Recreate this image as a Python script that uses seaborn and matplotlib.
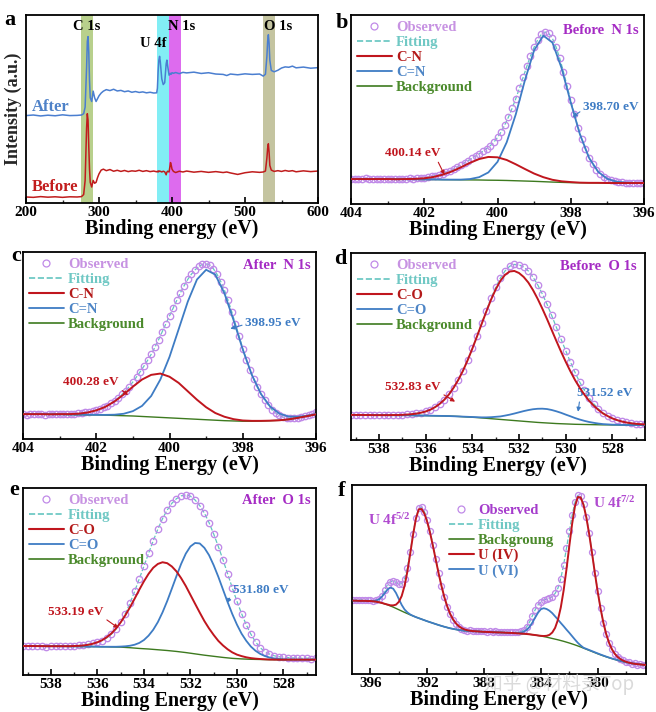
import numpy as np
import pandas as pd
import matplotlib
matplotlib.use("Agg")
import matplotlib.pyplot as plt
import seaborn as sns
from matplotlib.lines import Line2D
from matplotlib.ticker import MultipleLocator

# ===================== DATA =====================
# (a) survey spectra
survey_x = [200, 210, 220, 230, 240, 250, 260, 270, 276, 279, 281, 283, 284, 285, 286, 287, 288,
            290, 292, 294, 296, 298, 300, 303, 306, 310, 315, 320, 325, 330, 335, 340, 345, 350,
            355, 360, 365, 370, 375, 379, 380, 381, 382, 383, 384, 386, 388, 390, 392, 393, 394,
            396, 398, 399, 400, 402, 405, 410, 415, 420, 430, 440, 450, 460, 470, 475, 480, 490,
            500, 510, 520, 525, 528, 530, 531, 532, 533, 534, 536, 540, 545, 550, 555, 560, 565,
            570, 580, 590, 600]
survey_after = [46.5, 46.8, 46.3, 46.7, 46.4, 46.9, 46.5, 46.6, 46.8, 47.5, 51, 72, 86, 88.5, 80, 65, 56,
                54, 59.5, 56, 54, 55.5, 57, 58.5, 59.5, 60.3, 59.8, 60.5, 59.6, 59.9, 59.2, 59.6, 58.9, 59.3,
                58.8, 59.1, 58.6, 58.9, 58.5, 58.6, 61, 70, 76, 78, 75, 66, 63, 64, 74, 76, 73,
                68, 69, 68.5, 69.3, 69, 69.4, 68.8, 69.5, 69.2, 69.6, 68.9, 69.3, 68.6, 68.4, 67.8, 68.6, 68.2,
                68.7, 68.4, 68.6, 67.5, 68.5, 78, 86, 89.5, 85, 76, 70.5, 69.8, 70.6, 71.8, 72.4, 72.2, 72.8,
                71.9, 72.3, 71.7, 72.0]
survey_before = [3.2, 3.0, 3.4, 3.1, 3.3, 3.0, 3.3, 3.2, 3.4, 4.5, 12, 40, 47.5, 44, 30, 18, 11,
                 8.5, 12, 10.5, 11, 13.5, 15.5, 17.5, 18, 17.2, 17.8, 16.9, 17.4, 16.8, 17.3, 16.7, 17.1, 16.9,
                 17.4, 16.8, 17.2, 16.7, 17.0, 16.6, 16.9, 16.5, 17.1, 16.8, 16.9, 16.5, 16.9, 16.6, 15.0, 16.4, 16.9,
                 16.5, 21.5, 20, 18, 16.8, 16.2, 16.9, 16.5, 17.0, 16.4, 16.8, 16.3, 16.7, 16.2, 16.5, 16.0, 15.2,
                 16.1, 16.6, 16.3, 16.5, 17, 24, 29, 31.5, 27, 20, 17.5, 16.8, 17.2, 16.8, 17.3, 16.9, 17.2,
                 16.6, 17.1, 16.7, 17.0]
survey_bands = [(276, 292), (380, 396), (396, 413), (525, 541)]

# N 1s sampling grids (eV)
n1s_x = np.linspace(404.0, 396.0, 33)
n1s_obs_x = np.linspace(404.0, 396.0, 81)

# (b) Before N 1s
b_bg = [13.2, 13.2, 13.2, 13.2, 13.15, 13.1, 13.1, 13.05, 13.0, 12.95, 12.9, 12.85, 12.8, 12.75, 12.7, 12.6,
        12.55, 12.45, 12.3, 12.15, 12.0, 11.8, 11.6, 11.45, 11.3, 11.25, 11.2, 11.15, 11.1, 11.1, 11.1, 11.1, 11.1]
b_cn = [13.2, 13.2, 13.2, 13.2, 13.2, 13.1, 13.2, 13.3, 13.6, 14.3, 15.5, 17.2, 19.4, 21.8, 23.8, 24.9,
        24.7, 23.3, 21.0, 18.5, 16.1, 14.2, 12.8, 12.0, 11.6, 11.3, 11.2, 11.2, 11.1, 11.1, 11.1, 11.1, 11.1]
b_ceqn = [13.2, 13.2, 13.2, 13.2, 13.2, 13.1, 13.1, 13.1, 13.0, 13.0, 12.9, 12.9, 12.9, 13.2, 14.2, 16.7,
          22.3, 32.6, 47.5, 65.6, 81.3, 89.1, 85.4, 71.9, 53.7, 36.9, 24.4, 17.0, 13.3, 11.8, 11.3, 11.2, 11.1]
b_obs = [13.3, 13.0, 13.4, 13.2, 13.5, 13.1, 13.3, 13.0, 13.4, 13.2,
         13.3, 13.1, 13.4, 13.2, 13.3, 13.3, 13.5, 13.4, 13.6, 13.7,
         13.9, 14.2, 14.6, 15.0, 15.5, 16.1, 16.8, 17.6, 18.5, 19.5,
         20.6, 21.8, 23.0, 24.2, 25.4, 26.6, 27.9, 29.3, 30.8, 32.7,
         35.2, 38.2, 41.9, 46.0, 50.7, 55.8, 61.3, 67.0, 72.8, 78.3,
         83.0, 87.0, 89.8, 91.0, 90.3, 87.6, 83.0, 77.0, 70.0, 62.4,
         54.8, 47.4, 40.4, 34.4, 29.0, 24.6, 21.0, 18.2, 16.0, 14.5,
         13.4, 12.6, 12.0, 11.7, 11.5, 11.3, 11.2, 11.3, 11.1, 11.2,
         11.0]

# (c) After N 1s
c_bg = [13.3, 13.3, 13.25, 13.2, 13.2, 13.1, 13.0, 12.95, 12.9, 12.75, 12.6, 12.45, 12.3, 12.05, 11.8, 11.55,
        11.3, 11.05, 10.8, 10.55, 10.3, 10.05, 9.8, 9.65, 9.5, 9.5, 9.6, 9.8, 10.0, 10.5, 11.3, 12.2, 13.2]
c_cn = [13.3, 13.3, 13.3, 13.2, 13.3, 13.3, 13.5, 14.1, 15.3, 17.2, 20.1, 23.8, 28.0, 31.8, 34.3, 35.0,
        33.3, 30.0, 25.5, 21.0, 17.0, 13.9, 11.9, 10.6, 9.9, 9.7, 9.7, 9.8, 10.0, 10.5, 11.3, 12.2, 13.2]
c_ceqn = [13.3, 13.3, 13.3, 13.2, 13.2, 13.1, 13.0, 13.0, 12.9, 12.9, 13.0, 13.5, 14.9, 17.7, 23.0, 31.8,
          43.9, 58.7, 73.5, 85.3, 90.5, 87.9, 77.9, 63.5, 47.9, 34.2, 24.0, 17.3, 13.6, 12.0, 11.9, 12.4, 13.3]
c_obs = [13.5, 13.1, 13.4, 13.2, 13.6, 13.3, 13.1, 13.5, 13.2, 13.4,
         13.3, 13.5, 13.2, 13.6, 13.5, 13.7, 13.8, 14.2, 14.5, 15.0,
         15.5, 16.3, 17.0, 17.9, 19.0, 20.4, 22.0, 23.8, 25.8, 28.0,
         30.5, 33.2, 36.0, 38.9, 42.0, 45.3, 49.0, 53.0, 57.3, 61.6,
         65.8, 70.0, 74.2, 78.3, 82.0, 85.4, 88.2, 90.5, 92.3, 93.4,
         93.6, 92.9, 91.0, 88.0, 84.2, 79.6, 74.2, 68.0, 61.5, 55.0,
         48.3, 42.2, 36.8, 32.0, 27.6, 23.9, 20.8, 18.2, 15.5, 13.9,
         12.6, 11.7, 11.2, 11.0, 11.0, 11.3, 11.7, 12.2, 12.8, 13.5,
         14.3]

# O 1s sampling grid (eV)
o1s_x = np.linspace(539.2, 526.6, 64)

# (d) Before O 1s
d_bg = [13.4, 13.4, 13.4, 13.35, 13.35, 13.3, 13.3, 13.3, 13.25, 13.25,
        13.2, 13.2, 13.2, 13.15, 13.1, 13.1, 13.05, 13.0, 12.95, 12.9,
        12.85, 12.8, 12.7, 12.6, 12.45, 12.3, 12.15, 12.0, 11.8, 11.6,
        11.4, 11.2, 11.0, 10.8, 10.6, 10.4, 10.2, 10.0, 9.8, 9.6,
        9.4, 9.25, 9.1, 8.95, 8.8, 8.7, 8.6, 8.5, 8.4, 8.35,
        8.3, 8.25, 8.2, 8.15, 8.1, 8.1, 8.05, 8.05, 8.0, 8.0,
        8.0, 8.0, 8.0, 8.0]
d_co = [13.4, 13.4, 13.4, 13.35, 13.35, 13.3, 13.3, 13.3, 13.3, 13.35,
        13.35, 13.45, 13.6, 13.8, 14.1, 14.6, 15.25, 16.2, 17.55, 19.3,
        21.55, 24.4, 28.0, 32.2, 37.05, 42.7, 48.85, 55.4, 62.1, 68.7,
        75.0, 80.5, 85.1, 88.3, 90.1, 90.4, 89.3, 87.2, 84.2, 80.2,
        75.5, 70.25, 64.7, 58.85, 53.0, 47.3, 41.9, 36.8, 32.1, 27.95,
        24.3, 21.05, 18.4, 16.15, 14.2, 12.8, 11.55, 10.65, 9.9, 9.36,
        8.96, 8.67, 8.46, 8.31]
d_ceqo = [13.4, 13.4, 13.4, 13.35, 13.35, 13.3, 13.3, 13.3, 13.25, 13.25,
          13.2, 13.2, 13.2, 13.15, 13.1, 13.1, 13.05, 13.0, 12.95, 12.9,
          12.85, 12.8, 12.7, 12.6, 12.5, 12.4, 12.3, 12.2, 12.1, 12.1,
          12.2, 12.4, 12.6, 13.05, 13.55, 14.15, 14.8, 15.45, 16.0, 16.45,
          16.7, 16.75, 16.55, 16.05, 15.35, 14.55, 13.6, 12.7, 11.75, 10.95,
          10.25, 9.65, 9.2, 8.8, 8.5, 8.35, 8.2, 8.15, 8.05, 8.0,
          8.0, 8.0, 8.0, 8.0]
d_obs = [13.5, 13.2, 13.6, 13.3, 13.5, 13.2, 13.4, 13.2, 13.5, 13.3,
         13.4, 13.5, 13.7, 13.8, 14.2, 14.6, 15.3, 16.2, 17.6, 19.3,
         21.6, 24.4, 28.0, 32.3, 37.1, 42.8, 49.0, 55.6, 62.4, 69.2,
         75.8, 81.6, 86.6, 90.4, 92.9, 93.9, 93.7, 92.5, 90.4, 87.1,
         83.0, 78.1, 72.6, 66.6, 60.3, 54.0, 47.8, 41.8, 36.2, 31.0,
         26.6, 22.6, 19.4, 16.7, 14.5, 12.9, 11.6, 10.6, 9.9, 9.4,
         9.0, 8.8, 8.5, 8.4]

# (e) After O 1s
e_bg = [15.5, 15.5, 15.5, 15.45, 15.45, 15.4, 15.4, 15.4, 15.35, 15.35,
        15.3, 15.3, 15.25, 15.25, 15.2, 15.2, 15.15, 15.1, 15.1, 15.0,
        14.95, 14.9, 14.75, 14.6, 14.4, 14.2, 14.05, 13.9, 13.7, 13.5,
        13.3, 13.1, 12.85, 12.6, 12.3, 12.0, 11.65, 11.3, 10.95, 10.6,
        10.3, 10.0, 9.7, 9.4, 9.15, 8.9, 8.75, 8.6, 8.5, 8.4,
        8.35, 8.3, 8.25, 8.2, 8.2, 8.2, 8.2, 8.2, 8.2, 8.2,
        8.2, 8.2, 8.2, 8.2]
e_co = [15.5, 15.5, 15.5, 15.45, 15.45, 15.4, 15.4, 15.4, 15.4, 15.4,
        15.4, 15.5, 15.6, 15.8, 16.15, 16.7, 17.5, 18.6, 20.2, 22.2,
        24.85, 28.15, 31.95, 36.2, 40.8, 45.6, 50.1, 54.1, 57.35, 59.4,
        60.3, 59.8, 58.05, 55.4, 51.8, 47.6, 42.85, 38.1, 33.4, 28.85,
        24.9, 21.4, 18.25, 15.8, 13.75, 12.1, 10.9, 10.1, 9.47, 9.02,
        8.74, 8.54, 8.4, 8.28, 8.25, 8.2, 8.2, 8.2, 8.2, 8.2,
        8.2, 8.2, 8.2, 8.2]
e_ceqo = [15.5, 15.5, 15.5, 15.45, 15.45, 15.4, 15.4, 15.4, 15.35, 15.35,
          15.3, 15.3, 15.25, 15.25, 15.2, 15.2, 15.15, 15.1, 15.1, 15.1,
          15.1, 15.2, 15.35, 15.65, 16.2, 17.15, 18.7, 21.05, 24.2, 28.3,
          33.5, 39.5, 46.15, 52.9, 59.4, 64.9, 68.75, 70.6, 70.35, 68.0,
          64.1, 58.7, 52.5, 45.7, 38.95, 32.6, 26.95, 22.1, 18.3, 15.2,
          12.95, 11.3, 10.15, 9.36, 8.88, 8.59, 8.42, 8.32, 8.26, 8.23,
          8.2, 8.2, 8.2, 8.2]
e_obs = [15.6, 15.3, 15.7, 15.4, 15.6, 15.2, 15.5, 15.3, 15.6, 15.4,
         15.5, 15.6, 15.8, 16.0, 16.4, 16.9, 17.4, 18.4, 19.8, 21.8,
         24.6, 28.2, 32.8, 38.4, 44.7, 51.4, 58.2, 65.1, 71.8, 78.0,
         83.6, 88.2, 91.8, 94.3, 95.8, 96.3, 95.6, 93.6, 90.6, 86.6,
         81.5, 75.4, 68.7, 61.6, 54.1, 46.6, 39.4, 32.8, 26.9, 21.8,
         17.7, 14.6, 12.5, 11.2, 10.3, 9.8, 9.5, 9.3, 9.1, 9.2,
         8.9, 9.0, 8.8, 8.9]

# (f) U 4f
u4f_x = np.linspace(397.2, 376.6, 104)
f_bg = [38.8, 38.8, 38.7, 38.7, 38.7, 38.6, 38.6, 38.45, 38.3, 37.95,
        37.6, 37.1, 36.6, 36.0, 35.4, 34.7, 34.0, 33.3, 32.6, 31.95,
        31.3, 30.7, 30.1, 29.55, 29.0, 28.45, 27.9, 27.4, 26.9, 26.4,
        25.9, 25.45, 25.0, 24.6, 24.2, 23.9, 23.6, 23.35, 23.1, 22.95,
        22.8, 22.7, 22.6, 22.55, 22.5, 22.4, 22.3, 22.25, 22.2, 22.1,
        22.05, 22.0, 21.95, 21.9, 21.8, 21.75, 21.7, 21.6, 21.5, 21.4,
        21.3, 21.15, 21.0, 20.8, 20.6, 20.35, 20.1, 19.8, 19.5, 19.15,
        18.8, 18.45, 18.1, 17.7, 17.3, 16.85, 16.4, 15.9, 15.4, 14.85,
        14.3, 13.7, 13.1, 12.5, 11.9, 11.3, 10.7, 10.15, 9.6, 9.1,
        8.6, 8.15, 7.7, 7.3, 6.9, 6.55, 6.2, 5.9, 5.6, 5.4,
        5.2, 5.05, 4.9, 4.8]
f_u4 = [38.8, 38.8, 38.7, 38.7, 38.7, 38.6, 38.6, 38.45, 38.3, 37.95,
        37.6, 37.15, 36.75, 36.35, 36.3, 36.7, 38.2, 41.3, 46.6, 54.25,
        63.7, 73.7, 82.2, 87.15, 87.3, 84.85, 80.4, 74.6, 67.7, 60.4,
        53.2, 46.55, 40.7, 35.9, 32.0, 29.1, 26.95, 25.4, 24.35, 23.65,
        23.2, 22.9, 22.7, 22.6, 22.5, 22.4, 22.3, 22.25, 22.2, 22.1,
        22.05, 22.0, 21.95, 21.9, 21.8, 21.75, 21.7, 21.6, 21.5, 21.4,
        21.3, 21.15, 21.0, 20.8, 20.6, 20.4, 20.2, 20.1, 20.2, 20.7,
        21.95, 24.4, 28.7, 35.2, 44.2, 55.35, 67.7, 79.5, 88.8, 93.65,
        93.4, 89.5, 82.8, 74.0, 63.9, 53.4, 43.5, 34.65, 27.1, 21.05,
        16.5, 13.1, 10.7, 9.05, 7.9, 7.05, 6.45, 6.0, 5.65, 5.4,
        5.2, 5.05, 4.9, 4.8]
f_u6 = [38.8, 38.8, 38.7, 38.7, 38.7, 38.6, 38.65, 38.65, 38.9, 39.5,
        40.85, 42.75, 44.75, 45.75, 45.15, 42.85, 39.65, 36.55, 34.15, 32.6,
        31.5, 30.75, 30.1, 29.55, 29.0, 28.45, 27.9, 27.4, 26.9, 26.4,
        25.9, 25.45, 25.0, 24.6, 24.2, 23.9, 23.6, 23.35, 23.1, 22.95,
        22.8, 22.7, 22.6, 22.55, 22.5, 22.4, 22.3, 22.25, 22.2, 22.1,
        22.05, 22.0, 21.95, 21.9, 21.8, 21.75, 21.72, 21.67, 21.7, 21.89,
        22.4, 23.35, 24.95, 27.2, 29.9, 32.45, 34.3, 34.8, 34.4, 33.5,
        32.2, 30.5, 28.8, 27.0, 25.3, 23.5, 21.8, 20.0, 18.2, 16.5,
        15.1, 13.9, 13.3, 12.7, 12.1, 11.5, 10.9, 10.3, 9.75, 9.2,
        8.7, 8.2, 7.75, 7.35, 6.95, 6.6, 6.25, 5.95, 5.65, 5.45,
        5.25, 5.1, 4.95, 4.85]
f_obs = [39.0, 39.3, 39.0, 39.4, 39.1, 39.2, 38.9, 38.8, 38.9, 39.6,
         41.5, 44.4, 47.3, 48.9, 49.2, 48.5, 47.5, 47.8, 50.5, 56.2,
         64.6, 74.0, 82.6, 87.8, 88.3, 85.9, 81.3, 75.4, 68.4, 60.9,
         53.5, 46.7, 40.6, 35.6, 31.5, 28.6, 26.4, 25.0, 24.0, 23.5,
         23.0, 23.2, 22.8, 22.6, 22.9, 22.5, 22.7, 22.4, 22.6, 22.2,
         22.5, 22.1, 22.4, 22.0, 22.3, 22.1, 22.2, 22.0, 22.3, 22.6,
         23.4, 25.0, 27.5, 30.8, 34.0, 36.6, 38.2, 39.2, 39.6, 40.0,
         41.0, 42.6, 45.4, 50.5, 57.8, 66.5, 75.4, 84.0, 90.9, 94.5,
         94.2, 89.9, 83.3, 74.4, 64.3, 53.7, 43.7, 34.8, 27.2, 21.1,
         16.6, 13.2, 10.8, 9.2, 8.0, 7.3, 6.5, 6.2, 5.4, 5.6,
         5.0, 5.3, 4.8, 5.0]

# ===================== STYLE =====================
sns.set_theme(style="ticks")
plt.rcParams["font.family"] = ["Liberation Serif", "DejaVu Serif"]
plt.rcParams["font.weight"] = "bold"
plt.rcParams["mathtext.fontset"] = "custom"
plt.rcParams["mathtext.rm"] = "Liberation Serif:bold"
plt.rcParams["mathtext.bf"] = "Liberation Serif:bold"
plt.rcParams["mathtext.default"] = "bf"

RED = "#c0161e"
BLUE = "#3e7cc4"
GREEN = "#3d7a1f"
FIT = "#63c5c0"
OBS = "#c08ae8"
TITLE = "#a52bc4"
LEG_TXT = {"obs": "#c792e2", "fit": "#70c8c4", "red": "#b41a1a", "blue": "#4d85c6", "green": "#4b8a2c"}

fig = plt.figure(figsize=(6.56, 7.12), dpi=100)
W, H = 656.0, 712.0


def add_axes(l, t, r, b):
    return fig.add_axes([l / W, 1 - b / H, (r - l) / W, (b - t) / H])


def style_axis(ax, xlim, major, minor, xlabel):
    ax.set_xlim(*xlim)
    ax.set_ylim(0, 100)
    ax.xaxis.set_major_locator(MultipleLocator(major))
    ax.xaxis.set_minor_locator(MultipleLocator(minor))
    ax.set_yticks([])
    ax.set_ylabel("")
    ax.tick_params(axis="x", which="major", direction="in", length=4, width=1.2,
                   labelsize=11, pad=2, bottom=True, top=False, colors="black")
    ax.tick_params(axis="x", which="minor", direction="in", length=2.5, width=1.0,
                   bottom=True, top=False)
    ax.set_xlabel(xlabel, fontsize=14.5, fontweight="bold", labelpad=0.5, color="black")
    for s in ax.spines.values():
        s.set_linewidth(1.3)
        s.set_color("black")


def draw_fit_panel(ax, xc, bg, comp_red, comp_blue, xo, obs, ms=4.6):
    # observed points (under the fitted lines)
    sns.lineplot(x=xo, y=obs, ax=ax, linestyle="", marker="o", markersize=ms,
                 markerfacecolor="none", markeredgecolor=OBS, markeredgewidth=0.95,
                 errorbar=None, zorder=2)
    # fitting envelope (hidden under the observed points)
    sns.lineplot(x=xo, y=obs, ax=ax, color=FIT, linestyle="--", linewidth=0.9,
                 errorbar=None, zorder=1)
    sns.lineplot(x=xc, y=bg, ax=ax, color=GREEN, linewidth=1.0, errorbar=None, zorder=3)
    sns.lineplot(x=xc, y=comp_blue, ax=ax, color=BLUE, linewidth=1.3, errorbar=None, zorder=4)
    sns.lineplot(x=xc, y=comp_red, ax=ax, color=RED, linewidth=1.4, errorbar=None, zorder=5)


def add_legend(ax, labels, kinds, anchor, handlelength=2.4):
    handles = []
    colors = []
    for k in kinds:
        if k == "obs":
            handles.append(Line2D([], [], ls="none", marker="o", mfc="none", mec=OBS, ms=5, mew=0.9))
        elif k == "fit":
            handles.append(Line2D([], [], color=FIT, ls="--", lw=1.2))
        elif k == "red":
            handles.append(Line2D([], [], color=RED, lw=1.5))
        elif k == "blue":
            handles.append(Line2D([], [], color=BLUE, lw=1.3))
        else:
            handles.append(Line2D([], [], color=GREEN, lw=1.2))
        colors.append(LEG_TXT[k])
    leg = ax.legend(handles, labels, loc="upper left", bbox_to_anchor=anchor, frameon=False,
                    fontsize=10.5, handlelength=handlelength, handletextpad=0.3,
                    labelspacing=0.12, borderpad=0.2, borderaxespad=0.2, numpoints=1)
    for t, c in zip(leg.get_texts(), colors):
        t.set_color(c)
        t.set_fontweight("bold")
    return leg


def peak_label(ax, text, xytext, xy, color, relpos):
    ax.annotate(text, xy=xy, xytext=xytext, ha="left", va="center", color=color,
                fontsize=9.5, fontweight="bold",
                arrowprops=dict(arrowstyle="-|>", color=color, lw=0.8, mutation_scale=6,
                                shrinkA=0, shrinkB=0, relpos=relpos))


# ---------------- (a) survey ----------------
ax_a = add_axes(26, 15, 318, 203)
band_colors = ["#b8d08c", "#82eef5", "#dd6bee", "#c4c4a0"]
for (x0, x1), c in zip(survey_bands, band_colors):
    ax_a.axvspan(x0, x1, color=c, lw=0, zorder=0)
sns.lineplot(x=survey_x, y=survey_after, ax=ax_a, color="#4a7ed0", linewidth=1.1, errorbar=None)
sns.lineplot(x=survey_x, y=survey_before, ax=ax_a, color="#c01c1c", linewidth=1.1, errorbar=None)
style_axis(ax_a, (200, 600), 100, 50, "Binding energy (eV)")
ax_a.set_ylabel("Intensity (a.u.)", fontsize=13, fontweight="bold", labelpad=3)
for txt, x, y in [("C 1s", 283, 94), ("U 4f", 374, 85), ("N 1s", 413, 94), ("O 1s", 546, 94)]:
    ax_a.text(x, y, txt, ha="center", va="center", fontsize=10.5, fontweight="bold", color="black")
ax_a.text(208, 51, "After", ha="left", va="center", fontsize=12, fontweight="bold", color="#4f82c8")
ax_a.text(208, 8.5, "Before", ha="left", va="center", fontsize=12, fontweight="bold", color="#c21c1c")

# ---------------- (b) Before N 1s ----------------
ax_b = add_axes(351, 15, 644, 204)
draw_fit_panel(ax_b, n1s_x, b_bg, b_cn, b_ceqn, n1s_obs_x, b_obs)
style_axis(ax_b, (404, 396), 2, 1, "Binding Energy (eV)")
add_legend(ax_b, ["Observed", "Fitting", "C-N", "C=N", "Background"],
           ["obs", "fit", "red", "blue", "green"], (0.0, 1.0))
ax_b.text(0.98, 0.92, "Before  N 1s", transform=ax_b.transAxes, ha="right", va="center",
          fontsize=10.5, fontweight="bold", color=TITLE)
peak_label(ax_b, "400.14 eV", (403.07, 27.0), (401.45, 15.5), RED, (0.93, 0.0))
peak_label(ax_b, "398.70 eV", (397.66, 51.3), (397.95, 46.0), BLUE, (0.0, 0.3))

# ---------------- (c) After N 1s ----------------
ax_c = add_axes(23, 252, 316, 439)
draw_fit_panel(ax_c, n1s_x, c_bg, c_cn, c_ceqn, n1s_obs_x, c_obs)
style_axis(ax_c, (404, 396), 2, 1, "Binding Energy (eV)")
add_legend(ax_c, ["Observed", "Fitting", "C-N", "C=N", "Background"],
           ["obs", "fit", "red", "blue", "green"], (0.0, 1.0))
ax_c.text(0.98, 0.93, "After  N 1s", transform=ax_c.transAxes, ha="right", va="center",
          fontsize=10.5, fontweight="bold", color=TITLE)
peak_label(ax_c, "400.28 eV", (402.9, 30.5), (401.13, 23.5), RED, (0.97, 0.1))
peak_label(ax_c, "398.95 eV", (397.93, 62.0), (398.34, 59.0), BLUE, (0.0, 0.4))

# ---------------- (d) Before O 1s ----------------
ax_d = add_axes(351, 253, 645, 440)
draw_fit_panel(ax_d, o1s_x, d_bg, d_co, d_ceqo, o1s_x, d_obs)
style_axis(ax_d, (539.2, 526.6), 2, 1, "Binding Energy (eV)")
add_legend(ax_d, ["Observed", "Fitting", "C-O", "C=O", "Background"],
           ["obs", "fit", "red", "blue", "green"], (0.0, 1.0))
ax_d.text(0.97, 0.93, "Before  O 1s", transform=ax_d.transAxes, ha="right", va="center",
          fontsize=10.5, fontweight="bold", color=TITLE)
peak_label(ax_d, "532.83 eV", (537.74, 28.3), (534.74, 20.5), RED, (0.97, 0.1))
peak_label(ax_d, "531.52 eV", (529.51, 25.3), (529.47, 15.1), BLUE, (0.05, 0.0))

# ---------------- (e) After O 1s ----------------
ax_e = add_axes(23, 488, 316, 675)
draw_fit_panel(ax_e, o1s_x, e_bg, e_co, e_ceqo, o1s_x, e_obs)
style_axis(ax_e, (539.2, 526.6), 2, 1, "Binding Energy (eV)")
add_legend(ax_e, ["Observed", "Fitting", "C-O", "C=O", "Background"],
           ["obs", "fit", "red", "blue", "green"], (0.0, 1.0))
ax_e.text(0.98, 0.935, "After  O 1s", transform=ax_e.transAxes, ha="right", va="center",
          fontsize=10.5, fontweight="bold", color=TITLE)
peak_label(ax_e, "533.19 eV", (538.12, 33.9), (535.1, 25.1), RED, (0.97, 0.1))
peak_label(ax_e, "531.80 eV", (530.17, 45.5), (530.43, 38.5), BLUE, (0.0, 0.3))

# ---------------- (f) U 4f ----------------
ax_f = add_axes(352, 485, 646, 674)
draw_fit_panel(ax_f, u4f_x, f_bg, f_u4, f_u6, u4f_x, f_obs, ms=4.3)
style_axis(ax_f, (397.3, 376.6), 4, 2, "Binding Energy (eV)")
leg_f = add_legend(ax_f, ["Observed", "Fitting", "Backgroung", "U (IV)", "U (VI)"],
                   ["obs", "fit", "green", "red", "blue"], (0.31, 0.93), handlelength=1.7)
leg_f.get_texts()[0].set_color("#a53ccc")
ax_f.text(396.2, 81.5, r"U 4f$^{5/2}$", ha="left", va="center", fontsize=11,
          fontweight="bold", color="#b04ad0")
ax_f.text(380.3, 90.5, r"U 4f$^{7/2}$", ha="left", va="center", fontsize=11,
          fontweight="bold", color="#b04ad0")

# ---------------- panel letters ----------------
for letter, (px, py) in zip("abcdef", [(10, 20), (342, 23), (16, 256), (340, 259), (14, 490), (342, 491)]):
    fig.text(px / W, 1 - py / H, letter, ha="center", va="center", fontsize=16,
             fontweight="bold", color="black")

# ---------------- watermark (drawn over the lower-right tick labels, as in the source) ----------------
fig.text(484 / W, 1 - 684 / H, "知乎 @材料录Top", ha="left", va="center", fontsize=13.5,
         color="#d4d4d4", alpha=0.85, fontweight="normal",
         family=["Noto Sans CJK SC", "DejaVu Sans"])

fig.savefig("out.png", dpi=100)
